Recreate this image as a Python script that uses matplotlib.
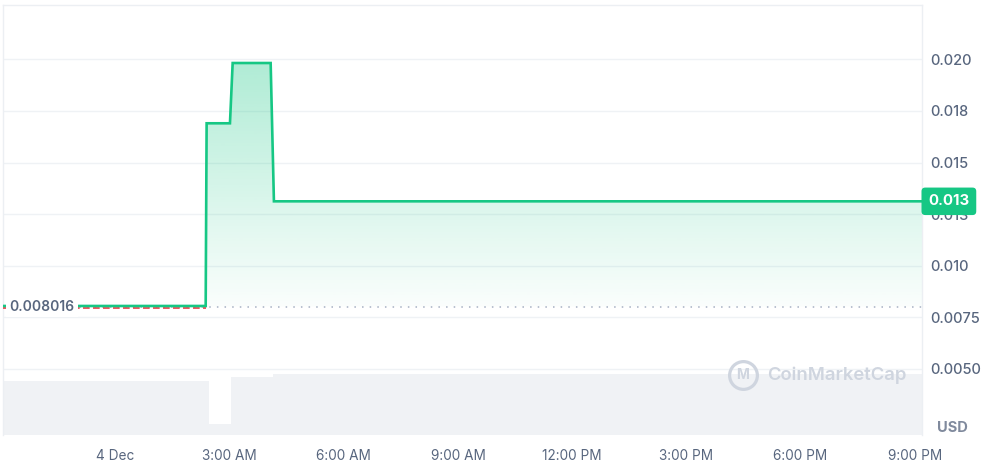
import numpy as np
import matplotlib
matplotlib.use("Agg")
import matplotlib.pyplot as plt
from matplotlib.transforms import blended_transform_factory

plt.rcParams["font.family"] = ["Inter", "DejaVu Sans"]

# price path, x = hours since 4 Dec 00:00
price_hours = [-2.955, 2.37, 2.395, 3.008, 3.079, 4.077, 4.163, 21.19]
price_values = [0.00805, 0.00805, 0.0169, 0.0169, 0.01982, 0.01982, 0.01312, 0.01312]
open_price = 0.008016
last_label = "0.013"

# volume blocks (start hour, end hour, volume in k USD)
vol_start = [-2.955, 2.456, 3.034, 4.137]
vol_end = [2.456, 3.034, 4.137, 21.19]
vol_values = [5.43, 1.1, 5.83, 6.1]

x_ticks = [0, 3, 6, 9, 12, 15, 18, 21]
x_labels = ["4 Dec", "3:00 AM", "6:00 AM", "9:00 AM", "12:00 PM", "3:00 PM", "6:00 PM", "9:00 PM"]
y_ticks = [0.005, 0.0075, 0.010, 0.0125, 0.015, 0.0175, 0.020]
y_labels = ["0.0050", "0.0075", "0.010", "0.013", "0.015", "0.018", "0.020"]

GREEN = "#16c784"
RED = "#ea3943"
TXT = "#58667e"
GRID = "#eff2f5"

W, H = 981, 475
fig = plt.figure(figsize=(W / 100, H / 100), dpi=100)
pos = [3 / W, 40 / H, 919 / W, 430 / H]

# volume underneath
axv = fig.add_axes(pos, zorder=0)
axv.bar(vol_start, vol_values, width=np.array(vol_end) - np.array(vol_start),
        align="edge", color="#f0f2f5", edgecolor="none")
axv.set_xlim(price_hours[0], price_hours[-1])
axv.set_ylim(0, 43)
axv.axis("off")

ax = fig.add_axes(pos, zorder=1)
ax.patch.set_visible(False)

# gradient fill between line and open price
fill = ax.fill_between(price_hours, price_values, open_price, color="none", lw=0)
top = max(price_values)
grad = np.zeros((200, 1, 4))
grad[:, 0, :3] = matplotlib.colors.to_rgb(GREEN)
grad[:, 0, 3] = np.linspace(0.34, 0.02, 200)
im = ax.imshow(grad, aspect="auto", origin="upper",
               extent=[price_hours[0], price_hours[-1], open_price, top], zorder=1)
im.set_clip_path(fill.get_paths()[0], transform=ax.transData)
ax.set_xlim(price_hours[0], price_hours[-1])
ax.set_ylim(0.0018, 0.02263)

# reference lines at open price
ax.axhline(open_price, color="#a6b0c3", lw=1.1, ls=(0, (1, 4)), zorder=2)
ax.hlines(open_price - 0.00005, price_hours[0], price_hours[1], color=RED, lw=1.2,
          ls=(0, (4, 2)), zorder=3)

ax.plot(price_hours, price_values, color=GREEN, lw=1.9, zorder=4, solid_joinstyle="miter")

# grid and axes
ax.set_yticks(y_ticks)
ax.set_yticklabels(y_labels)
ax.set_xticks(x_ticks)
ax.set_xticklabels(x_labels)
ax.yaxis.tick_right()
ax.tick_params(axis="y", length=0, pad=6, labelsize=10.5, labelcolor=TXT)
ax.tick_params(axis="x", length=0, pad=10, labelsize=9.8, labelcolor=TXT)
for lab in ax.get_yticklabels():
    lab.set_fontweight("medium")
ax.grid(axis="y", color=GRID, lw=1)
ax.set_axisbelow(True)
for side in ["left", "top", "right"]:
    ax.spines[side].set_color("#eceff3")
    ax.spines[side].set_linewidth(1)
ax.spines["bottom"].set_visible(False)

# open price label on the left
ax.text(0.007, open_price, "0.008016", transform=blended_transform_factory(ax.transAxes, ax.transData),
        ha="left", va="center", fontsize=10, color=TXT, fontweight="semibold", zorder=6,
        bbox=dict(boxstyle="square,pad=0.25", fc="white", ec="none"))

# last price badge
ax.annotate(last_label, xy=(1, price_values[-1]), xycoords=("axes fraction", "data"),
            xytext=(4.5, 0), textcoords="offset points", ha="left", va="center",
            fontsize=10.8, color="white", fontweight="bold", zorder=10, annotation_clip=False,
            bbox=dict(boxstyle="round,pad=0.45,rounding_size=0.25", fc=GREEN, ec="none"))

fig.text(952 / W, 1 - 428 / H, "USD", ha="center", va="center", fontsize=10.5,
         fontweight="bold", color="#808a9d")

# watermark
wm = "#cfd5df"
ax.plot([(742.5 - 3) / 919], [(435 - 374.5) / 430], transform=ax.transAxes, marker="o",
        ms=20, mfc="none", mec=wm, mew=2.3, zorder=5, clip_on=False)
ax.text((736 - 3) / 919, (435 - 375) / 430, "M", transform=ax.transAxes, ha="left",
        va="center", fontsize=10, fontweight="bold", color=wm, zorder=5)
ax.text((767 - 3) / 919, (435 - 375) / 430, "CoinMarketCap", transform=ax.transAxes,
        ha="left", va="center", fontsize=13.3, fontweight="semibold", color=wm, zorder=5)

fig.savefig("out.png", dpi=100)
